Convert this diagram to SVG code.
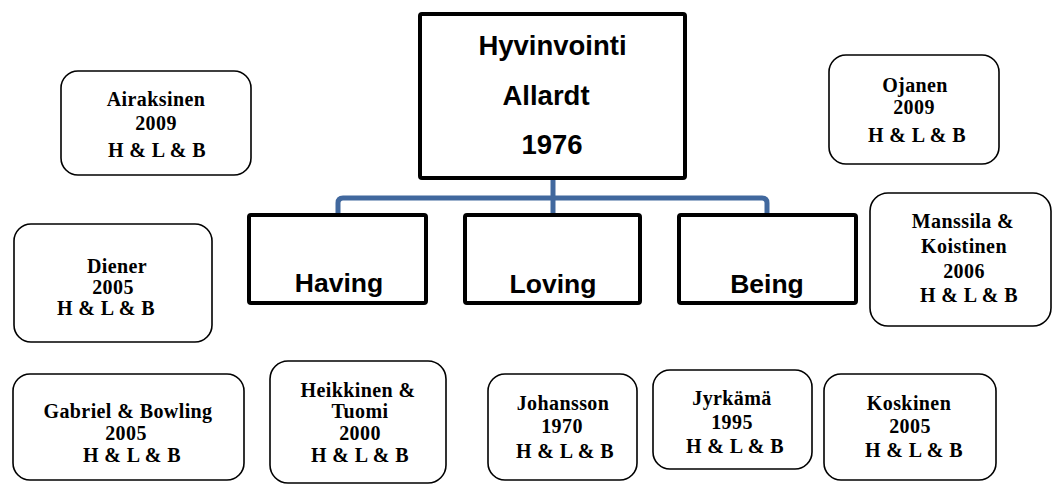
<svg xmlns="http://www.w3.org/2000/svg" width="1054" height="484" viewBox="0 0 1054 484">
<style>
.big{fill:#fff;stroke:#000;stroke-width:4}
.sm{fill:#fff;stroke:#000;stroke-width:1.6}
.ts{font-family:"Liberation Sans",Arial,sans-serif;font-weight:bold;font-size:27.5px;text-anchor:middle;fill:#000}
.tc{font-family:"Liberation Sans",Arial,sans-serif;font-weight:bold;font-size:26.5px;text-anchor:middle;fill:#000}
.tr{font-family:"Liberation Serif","Times New Roman",serif;font-weight:bold;font-size:20px;text-anchor:middle;fill:#000;letter-spacing:0.4px}
.conn{fill:none;stroke:#41689E;stroke-width:5}
</style>
<rect width="1054" height="484" fill="#fff"/>
<g id="connectors">
<path class="conn" d="M553 180 V215"/>
<path class="conn" d="M338 215 V203 Q338 198 343 198 H762 Q767 198 767 203 V215"/>
</g>
<g id="hyvinvointi">
<rect class="big" x="420" y="14" width="265" height="164" rx="2"/>
<text class="ts" x="552.5" y="55">Hyvinvointi</text>
<text class="ts" x="546" y="105">Allardt</text>
<text class="ts" x="552" y="154">1976</text>
</g>
<g id="having">
<rect class="big" x="249" y="215" width="177" height="88" rx="2"/>
<text class="tc" x="339" y="292">Having</text>
</g>
<g id="loving">
<rect class="big" x="465" y="215" width="175" height="88" rx="2"/>
<text class="tc" x="553" y="293">Loving</text>
</g>
<g id="being">
<rect class="big" x="679" y="215" width="177" height="88" rx="2"/>
<text class="tc" x="767" y="293">Being</text>
</g>
<g id="airaksinen">
<rect class="sm" x="61" y="71" width="190" height="104" rx="17"/>
<text class="tr" x="156" y="106">Airaksinen</text>
<text class="tr" x="156" y="130">2009</text>
<text class="tr" x="157" y="157">H &amp; L &amp; B</text>
</g>
<g id="diener">
<rect class="sm" x="14" y="224" width="198" height="118" rx="17"/>
<text class="tr" x="117" y="273">Diener</text>
<text class="tr" x="113" y="294">2005</text>
<text class="tr" x="106" y="315">H &amp; L &amp; B</text>
</g>
<g id="ojanen">
<rect class="sm" x="829" y="55" width="170" height="109" rx="17"/>
<text class="tr" x="915" y="92">Ojanen</text>
<text class="tr" x="914" y="114">2009</text>
<text class="tr" x="917" y="142">H &amp; L &amp; B</text>
</g>
<g id="manssila">
<rect class="sm" x="870" y="193" width="181" height="133" rx="18"/>
<text class="tr" x="963" y="228">Manssila &amp;</text>
<text class="tr" x="964" y="253">Koistinen</text>
<text class="tr" x="964" y="278">2006</text>
<text class="tr" x="969" y="302">H &amp; L &amp; B</text>
</g>
<g id="gabriel">
<rect class="sm" x="13" y="374" width="231" height="106" rx="17"/>
<text class="tr" x="128" y="418">Gabriel &amp; Bowling</text>
<text class="tr" x="126" y="440">2005</text>
<text class="tr" x="132" y="462">H &amp; L &amp; B</text>
</g>
<g id="heikkinen">
<rect class="sm" x="270" y="361" width="176" height="122" rx="18"/>
<text class="tr" x="358" y="397">Heikkinen &amp;</text>
<text class="tr" x="360" y="418">Tuomi</text>
<text class="tr" x="360" y="440">2000</text>
<text class="tr" x="360" y="462">H &amp; L &amp; B</text>
</g>
<g id="johansson">
<rect class="sm" x="488" y="374" width="149" height="106" rx="17"/>
<text class="tr" x="563" y="410">Johansson</text>
<text class="tr" x="562" y="433">1970</text>
<text class="tr" x="565" y="458">H &amp; L &amp; B</text>
</g>
<g id="jyrkama">
<rect class="sm" x="653" y="370" width="159" height="99" rx="17"/>
<text class="tr" x="732" y="405">Jyrkämä</text>
<text class="tr" x="732" y="429">1995</text>
<text class="tr" x="735" y="453">H &amp; L &amp; B</text>
</g>
<g id="koskinen">
<rect class="sm" x="824" y="374" width="172" height="106" rx="17"/>
<text class="tr" x="909" y="410">Koskinen</text>
<text class="tr" x="910" y="433">2005</text>
<text class="tr" x="914" y="457">H &amp; L &amp; B</text>
</g>
</svg>
